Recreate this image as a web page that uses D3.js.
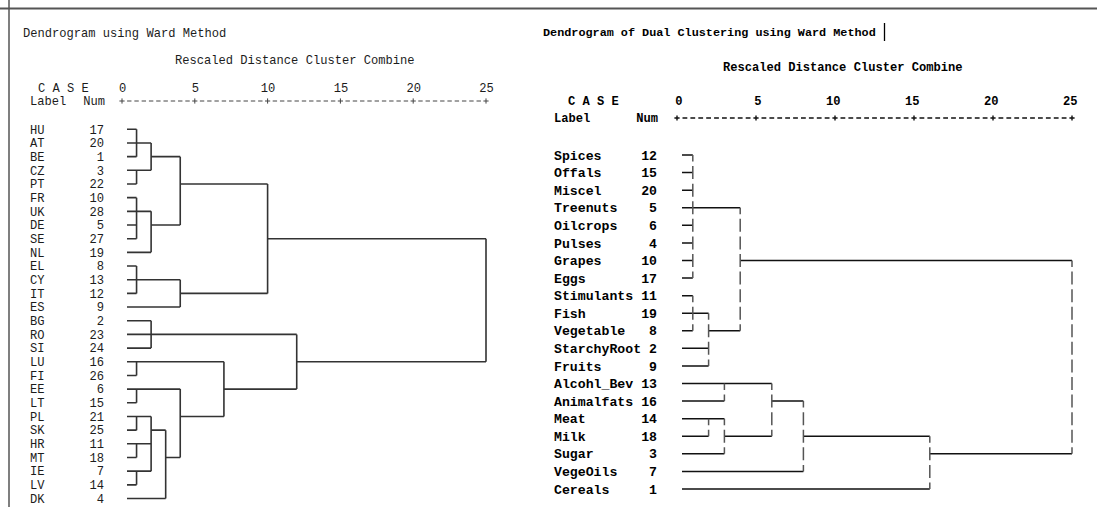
<!DOCTYPE html>
<html>
<head>
<meta charset="utf-8">
<script src="https://cdn.jsdelivr.net/npm/d3@7"></script>
<style>
  body { margin: 0; background: #fff; }
  svg { display: block; }
  text { font-family: "Liberation Mono", "Courier New", monospace; }
</style>
</head>
<body>
<svg id="chart" width="1097" height="507"></svg>
<script>
// left tree: countries, in dendrogram order
var countryLabels = ['HU','AT','BE','CZ','PT','FR','UK','DE','SE','NL','EL','CY','IT','ES',
  'BG','RO','SI','LU','FI','EE','LT','PL','SK','HR','MT','IE','LV','DK'];
var countryNums = [17,20,1,3,22,10,28,5,27,19,8,13,12,9,2,23,24,16,26,6,15,21,25,11,18,7,14,4];
// linkage: [child a, child b, rescaled distance]; ids >= n point to earlier merges
var countryMerges = [
  [0,1,1],[28,2,1],[3,4,1],[5,6,1],[7,8,1],[31,32,1],[10,11,1],[34,12,1],
  [17,18,1],[19,20,1],[21,22,1],[23,24,1],[25,26,1],
  [29,30,2],[33,9,2],[14,15,2],[43,16,2],[39,40,2],[38,45,2],
  [46,27,3],
  [41,42,4],[35,13,4],[37,47,4],
  [36,50,7],
  [48,49,10],
  [44,51,12],
  [52,53,25]
];

// right tree: food groups
var foodLabels = ['Spices','Offals','Miscel','Treenuts','Oilcrops','Pulses','Grapes','Eggs',
  'Stimulants','Fish','Vegetable','StarchyRoot','Fruits','Alcohl_Bev','Animalfats','Meat',
  'Milk','Sugar','VegeOils','Cereals'];
var foodNums = [12,15,20,5,6,4,10,17,11,19,8,2,9,13,16,14,18,3,7,1];
var foodMerges = [
  [0,1,1],[2,3,1],[20,21,1],[4,5,1],[6,7,1],[23,24,1],[22,25,1],
  [8,9,1],[27,10,1],
  [11,12,2],[28,29,2],[15,16,2],
  [13,14,3],[31,17,3],
  [26,30,4],
  [32,33,6],
  [35,18,8],
  [36,19,16],
  [34,37,25]
];

var distTicks = [0,5,10,15,20,25];

var svg = d3.select('#chart');

// frame lines of the screenshot
svg.append('line').attr('x1', 0).attr('x2', 1097).attr('y1', 8.5).attr('y2', 8.5)
  .attr('stroke', '#555').attr('stroke-width', 2);
svg.append('line').attr('x1', 9).attr('x2', 9).attr('y1', 0).attr('y2', 507)
  .attr('stroke', '#555').attr('stroke-width', 1.5);

function layoutTree(n, merges) {
  var nodes = [];
  for (var i = 0; i < n; i++) nodes.push({ row: i, d: null });
  merges.forEach(function(m) {
    var a = nodes[m[0]], b = nodes[m[1]];
    var top = Math.min(a.row, b.row), bottom = Math.max(a.row, b.row);
    nodes.push({ row: Math.floor((top + bottom) / 2), d: m[2], top: top, bottom: bottom, kids: [a, b] });
  });
  return nodes;
}

function drawDendrogram(cfg) {
  var g = svg.append('g');
  var n = cfg.labels.length;
  var x = d3.scaleLinear().domain([0, 25]).range(cfg.xRange);
  var y = d3.scaleLinear().domain([0, n - 1]).range(cfg.yRange);
  var weight = cfg.bold ? 'bold' : 'normal';
  var cw = (x(5) - x(0)) / 10;

  function txt(s, tx, ty, size, anchor) {
    return g.append('text').attr('x', tx).attr('y', ty).attr('dy', '0.35em')
      .attr('font-size', size).attr('font-weight', weight).attr('fill', cfg.textColor)
      .attr('text-anchor', anchor || 'start').text(s);
  }

  txt(cfg.title, cfg.titleX, cfg.titleY, cfg.titleSize);
  txt('Rescaled Distance Cluster Combine', cfg.subX, cfg.subY, cfg.headSize);
  txt('C A S E', cfg.caseX, cfg.caseY, cfg.headSize);
  txt('Label', cfg.labelX, cfg.axisY, cfg.headSize);
  txt('Num', cfg.numX + 1, cfg.axisY, cfg.headSize, 'end');

  // axis: tick labels from d3 axis, ruler drawn as "+----+" marks
  var axis = g.append('g').attr('transform', 'translate(0,' + cfg.axisY + ')')
    .call(d3.axisTop(x).tickValues(distTicks).tickSize(0));
  axis.select('.domain').remove();
  axis.selectAll('text')
    .attr('y', cfg.caseY - cfg.axisY).attr('dy', '0.35em')
    .attr('font-family', null).attr('font-size', cfg.headSize).attr('font-weight', weight)
    .attr('fill', cfg.textColor)
    .attr('text-anchor', cfg.tickAnchor)
    .attr('x', cfg.tickAnchor === 'end' ? cw / 2 + 1 : 0);

  var ruler = '';
  distTicks.forEach(function(t, i) {
    var px = x(t);
    ruler += 'M' + (px - 2.6) + ',' + cfg.axisY + 'H' + (px + 2.6) +
      'M' + px + ',' + (cfg.axisY - 2.6) + 'V' + (cfg.axisY + 2.6);
    if (i < distTicks.length - 1) {
      var step = (x(distTicks[i + 1]) - px) / 10;
      for (var k = 1; k < 10; k++) {
        var c = px + k * step;
        ruler += 'M' + (c - cfg.dash / 2) + ',' + cfg.axisY + 'H' + (c + cfg.dash / 2);
      }
    }
  });
  g.append('path').attr('d', ruler).attr('fill', 'none')
    .attr('stroke', cfg.rulerColor).attr('stroke-width', cfg.rulerWidth);

  // row labels
  cfg.labels.forEach(function(l, i) {
    txt(l, cfg.labelX, y(i), cfg.rowSize);
    txt(String(cfg.nums[i]), cfg.numX, y(i), cfg.rowSize, 'end');
  });

  var nodes = layoutTree(n, cfg.merges);
  var leafX = x(0) + 5;
  var hPath = '', vPath = '';
  nodes.forEach(function(nd) {
    if (!nd.kids) return;
    var px = x(nd.d);
    nd.kids.forEach(function(k) {
      var x1 = k.d === null ? leafX : x(k.d);
      if (px - x1 > 0.1) hPath += 'M' + x1 + ',' + y(k.row) + 'H' + px;
    });
    if (cfg.dashedVertical) {
      var yt = y(nd.top), yb = y(nd.bottom);
      for (var r = nd.top; r <= nd.bottom; r++) {
        var a = Math.max(yt, y(r) - cfg.segHalf), b = Math.min(yb, y(r) + cfg.segHalf);
        if (b > a) vPath += 'M' + px + ',' + a + 'V' + b;
      }
    } else {
      vPath += 'M' + px + ',' + y(nd.top) + 'V' + y(nd.bottom);
    }
  });
  g.append('path').attr('d', hPath).attr('fill', 'none')
    .attr('stroke', cfg.lineColor).attr('stroke-width', cfg.lineWidth);
  g.append('path').attr('d', vPath).attr('fill', 'none')
    .attr('stroke', cfg.vColor).attr('stroke-width', cfg.lineWidth);
  return g;
}

drawDendrogram({
  title: 'Dendrogram using Ward Method',
  labels: countryLabels, nums: countryNums, merges: countryMerges,
  xRange: [122, 486], yRange: [129.3, 498.5],
  titleX: 23, titleY: 33, subX: 175, subY: 60, caseX: 38, caseY: 88, axisY: 101,
  labelX: 30, numX: 104,
  titleSize: 12.1, headSize: 12.1, rowSize: 12.1, bold: false, textColor: '#1c1c1c',
  tickAnchor: 'middle', dash: 4.4, rulerColor: '#444', rulerWidth: 1,
  lineColor: '#333', vColor: '#333', lineWidth: 1.6, dashedVertical: false
});

drawDendrogram({
  title: 'Dendrogram of Dual Clustering using Ward Method',
  labels: foodLabels, nums: foodNums, merges: foodMerges,
  xRange: [677, 1072], yRange: [155, 489],
  titleX: 543, titleY: 32, subX: 723, subY: 67, caseX: 568, caseY: 101, axisY: 118,
  labelX: 554, numX: 657,
  titleSize: 11.8, headSize: 12.1, rowSize: 13.2, bold: true, textColor: '#000',
  tickAnchor: 'end', dash: 4.8, rulerColor: '#111', rulerWidth: 1.4,
  lineColor: '#111', vColor: '#555', lineWidth: 1.5, dashedVertical: true, segHalf: 6.5
});

// text cursor left after the right-hand title
svg.append('line').attr('x1', 884.5).attr('x2', 884.5).attr('y1', 23).attr('y2', 41)
  .attr('stroke', '#000').attr('stroke-width', 1.3);
</script>
</body>
</html>
